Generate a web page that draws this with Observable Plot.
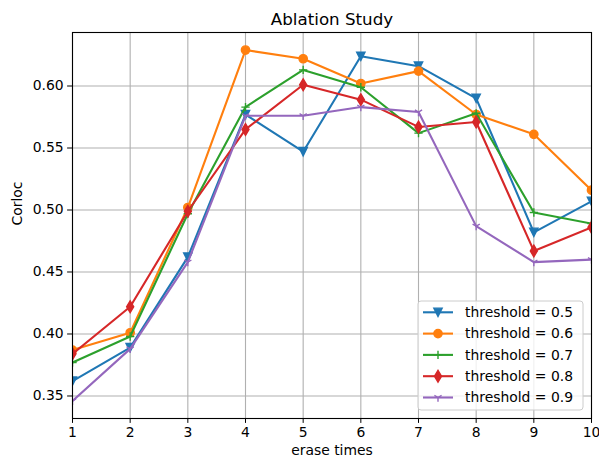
<!DOCTYPE html>
<html>
<head>
<meta charset="utf-8">
<script src="https://cdn.jsdelivr.net/npm/d3@7"></script>
<script src="https://cdn.jsdelivr.net/npm/@observablehq/plot@0.6"></script>
<style>
  html, body { margin: 0; padding: 0; background: white; }
  svg { display: block; }
</style>
</head>
<body>
<script>
// ---- Data ----
const eraseTimes = [1, 2, 3, 4, 5, 6, 7, 8, 9, 10];
const thr05 = [0.362, 0.389, 0.462, 0.577, 0.547, 0.624, 0.616, 0.590, 0.482, 0.507];
const thr06 = [0.387, 0.401, 0.502, 0.629, 0.622, 0.602, 0.612, 0.577, 0.561, 0.516];
const thr07 = [0.377, 0.398, 0.497, 0.583, 0.613, 0.599, 0.562, 0.578, 0.498, 0.489];
const thr08 = [0.384, 0.422, 0.499, 0.565, 0.601, 0.589, 0.567, 0.571, 0.467, 0.486];
const thr09 = [0.346, 0.388, 0.458, 0.576, 0.576, 0.583, 0.579, 0.487, 0.458, 0.460];
const seriesNames = ["threshold = 0.5", "threshold = 0.6", "threshold = 0.7", "threshold = 0.8", "threshold = 0.9"];
const yTicks = [0.35, 0.40, 0.45, 0.50, 0.55, 0.60];
const title = "Ablation Study";
const xLabel = "erase times";
const yLabel = "Corloc";

// ---- Marker shapes (matplotlib-like) ----
const hOf = size => Math.sqrt(size / Math.PI);
const triangleDown = { draw(c, s) { const h = hOf(s); c.moveTo(-h, -h); c.lineTo(h, -h); c.lineTo(0, h); c.closePath(); } };
const circle = { draw(c, s) { const h = hOf(s); c.moveTo(h, 0); c.arc(0, 0, h, 0, 2 * Math.PI); c.closePath(); } };
const plus = { draw(c, s) { const h = hOf(s); c.moveTo(-h, 0); c.lineTo(h, 0); c.moveTo(0, -h); c.lineTo(0, h); } };
const thinDiamond = { draw(c, s) { const h = hOf(s) * 1.414; c.moveTo(0, -h); c.lineTo(0.6 * h, 0); c.lineTo(0, h); c.lineTo(-0.6 * h, 0); c.closePath(); } };
const triDown = { draw(c, s) { const h = hOf(s); c.moveTo(0, 0); c.lineTo(0, h); c.moveTo(0, 0); c.lineTo(-0.866 * h, -0.5 * h); c.moveTo(0, 0); c.lineTo(0.866 * h, -0.5 * h); } };

const colors = ["#1f77b4", "#ff7f0e", "#2ca02c", "#d62728", "#9467bd"];
const values = [thr05, thr06, thr07, thr08, thr09];
const symbols = [triangleDown, circle, plus, thinDiamond, triDown];
const filled = [true, true, false, true, false];

const series = seriesNames.map((name, i) => ({
  name, color: colors[i], symbol: symbols[i], filled: filled[i],
  data: eraseTimes.map((x, j) => ({ x, y: values[i][j] }))
}));

// matplotlib-style y limits: data range with 5% margin
const allY = values.flat();
const yMin = d3.min(allY), yMax = d3.max(allY), pad = (yMax - yMin) * 0.05;

const R = 4.15;
const FONT = "DejaVu Sans, sans-serif";

const marks = [
  Plot.gridX(eraseTimes, { stroke: "#b0b0b0", strokeOpacity: 1, strokeWidth: 1.1 }),
  Plot.gridY(yTicks, { stroke: "#b0b0b0", strokeOpacity: 1, strokeWidth: 1.1 }),
];
for (const s of series) {
  marks.push(Plot.line(s.data, { x: "x", y: "y", stroke: s.color, strokeWidth: 2.1, clip: true }));
  marks.push(Plot.dot(s.data, {
    x: "x", y: "y", r: R, symbol: s.symbol,
    fill: s.filled ? s.color : "none", stroke: s.color, strokeWidth: 1.4, clip: true
  }));
}
marks.push(
  Plot.frame({ stroke: "black", strokeWidth: 1.1 }),
  Plot.axisX(eraseTimes, { tickSize: 4.9, tickPadding: 4, tickFormat: d => String(d), label: null, fontSize: 13.9 }),
  Plot.axisY(yTicks, { tickSize: 4.9, tickPadding: 4, tickFormat: d3.format(".2f"), label: null, fontSize: 13.9 }),
  Plot.text([xLabel], { frameAnchor: "bottom", dy: 36, fontSize: 13.9, fill: "black" }),
  Plot.text([yLabel], { frameAnchor: "left", dx: -55, rotate: -90, fontSize: 13.9, fill: "black" }),
  Plot.text([title], { frameAnchor: "top", dy: -19, fontSize: 16.7, fill: "black" })
);

const chart = Plot.plot({
  width: 599, height: 464,
  marginLeft: 72, marginRight: 8, marginTop: 32, marginBottom: 46,
  style: { fontFamily: FONT, fontSize: "13.9px", background: "white", color: "black" },
  x: { domain: [1, 10] },
  y: { domain: [yMin - pad, yMax + pad] },
  marks
});
document.body.appendChild(chart);

// ---- Legend (lower right, inside axes) ----
const svg = d3.select(chart);
const lg = svg.append("g").attr("font-family", FONT).attr("font-size", 13.9).attr("text-anchor", "start");
const lx = 418, ly = 301, lw = 165, lh = 109, step = 21.3;
lg.append("rect").attr("x", lx).attr("y", ly).attr("width", lw).attr("height", lh)
  .attr("rx", 3).attr("fill", "white").attr("fill-opacity", 0.8).attr("stroke", "#cccccc").attr("stroke-width", 1);
series.forEach((s, i) => {
  const y = ly + 11.3 + i * step;
  lg.append("line").attr("x1", lx + 5).attr("x2", lx + 35).attr("y1", y).attr("y2", y)
    .attr("stroke", s.color).attr("stroke-width", 2.1);
  lg.append("path").attr("transform", `translate(${lx + 20},${y})`)
    .attr("d", d3.symbol(s.symbol, Math.PI * R * R)())
    .attr("fill", s.filled ? s.color : "none").attr("stroke", s.color).attr("stroke-width", 1.4);
  lg.append("text").attr("x", lx + 47).attr("y", y).attr("dy", "0.35em").attr("fill", "black")
    .attr("text-anchor", "start").text(s.name);
});
</script>
</body>
</html>
